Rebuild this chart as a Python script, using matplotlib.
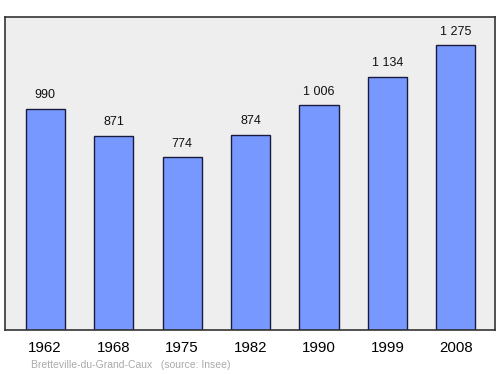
import matplotlib
matplotlib.use("Agg")
import matplotlib.pyplot as plt

plt.rcParams["font.family"] = ["Liberation Sans", "DejaVu Sans"]

years = ["1962", "1968", "1975", "1982", "1990", "1999", "2008"]
population = [990, 871, 774, 874, 1006, 1134, 1275]
labels = ["990", "871", "774", "874", "1 006", "1 134", "1 275"]

fig = plt.figure(figsize=(5.0, 3.74), dpi=100)
ax = fig.add_axes([5 / 500, 1 - 330 / 374, 490 / 500, 313 / 374])
ax.set_facecolor("#eeeeee")

x = range(len(years))
ax.bar(x, population, width=0.57, color="#7799ff", edgecolor="#1a1a40", linewidth=1.0, zorder=2)

for xi, v, lab in zip(x, population, labels):
    ax.annotate(lab, (xi, v), xytext=(0, 5.5), textcoords="offset points",
                ha="center", va="bottom", fontsize=9, color="#111111")

ax.set_xlim(-0.585, 6.57)
ax.set_ylim(0, max(population) * 1.1)
ax.set_yticks([])
ax.set_xticks(list(x))
ax.set_xticklabels(years, fontsize=10.8, color="#000000")
ax.tick_params(axis="x", length=0, pad=8)
for s in ax.spines.values():
    s.set_color("#333333")
    s.set_linewidth(1.2)

fig.text(31 / 500, 1 - 365 / 374, "Bretteville-du-Grand-Caux   (source: Insee)",
         fontsize=7.5, color="#aaaaaa", ha="left", va="center")

fig.savefig("out.png", dpi=100)
